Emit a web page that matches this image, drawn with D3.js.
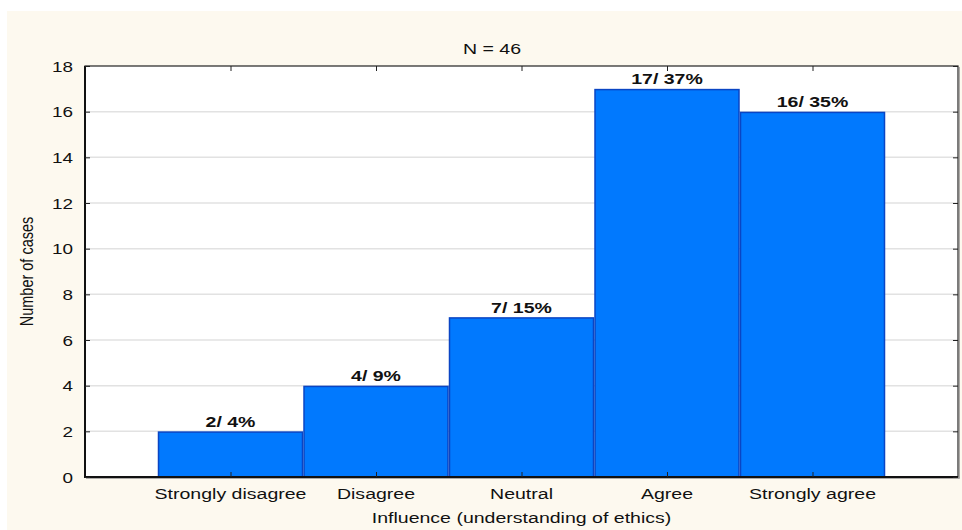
<!DOCTYPE html>
<html>
<head>
<meta charset="utf-8">
<script src="https://cdn.jsdelivr.net/npm/d3@7"></script>
<style>
  html, body { margin: 0; padding: 0; background: #ffffff; }
  svg { display: block; }
  text { font-family: "Liberation Sans", Arial, sans-serif; fill: #111; }
</style>
</head>
<body>
<svg id="chart" width="962" height="530"></svg>
<script>
const categories = ["Strongly disagree", "Disagree", "Neutral", "Agree", "Strongly agree"];
const counts = [2, 4, 7, 17, 16];
const percents = [4, 9, 15, 37, 35];
const yTicks = [0, 2, 4, 6, 8, 10, 12, 14, 16, 18];
const titleText = "N = 46";
const xTitle = "Influence (understanding of ethics)";
const yTitle = "Number of cases";

const svg = d3.select("#chart");
const W = 962, H = 530;
const plot = { left: 85, top: 66, right: 958, bottom: 477 };
const SX = 1.26; // horizontal stretch of the original picture

svg.append("rect").attr("x", 7).attr("y", 11).attr("width", W - 7).attr("height", H - 11)
  .attr("fill", "#fdf9ef");
svg.append("rect").attr("x", plot.left).attr("y", plot.top)
  .attr("width", plot.right - plot.left).attr("height", plot.bottom - plot.top)
  .attr("fill", "#ffffff");

const x = d3.scaleLinear().domain([0, categories.length + 1]).range([plot.left, plot.right]);
const y = d3.scaleLinear().domain([0, 18]).range([plot.bottom, plot.top]);

// gridlines
svg.append("g").selectAll("line").data(yTicks.filter(d => d > 0 && d < 18)).join("line")
  .attr("x1", plot.left).attr("x2", plot.right)
  .attr("y1", d => y(d)).attr("y2", d => y(d))
  .attr("stroke", "#e2e2e2").attr("stroke-width", 1.5);

// bars
const bw = x(1) - x(0);
svg.append("g").selectAll("rect").data(counts).join("rect")
  .attr("x", (d, i) => x(i + 0.5) + 0.75)
  .attr("y", d => y(d) + 0.75)
  .attr("width", bw - 1.5)
  .attr("height", d => y(0) - y(d) - 0.75)
  .attr("fill", "#0179fe")
  .attr("stroke", "#0a45c4").attr("stroke-width", 1.5);

// bar labels
svg.append("g").selectAll("text").data(counts).join("text")
  .attr("transform", (d, i) => `translate(${x(i + 1)},${y(d) - 4.5}) scale(${SX},1)`)
  .attr("text-anchor", "middle")
  .attr("font-size", "15.5px").attr("font-weight", "bold")
  .text((d, i) => `${d}/ ${percents[i]}%`);

// frame
svg.append("rect").attr("x", plot.left).attr("y", plot.top)
  .attr("width", plot.right - plot.left).attr("height", plot.bottom - plot.top)
  .attr("fill", "none").attr("stroke", "#222").attr("stroke-width", 1.2);
svg.append("line").attr("x1", plot.right + 1.2).attr("x2", plot.right + 1.2)
  .attr("y1", plot.top + 1).attr("y2", plot.bottom + 1.5)
  .attr("stroke", "#888").attr("stroke-width", 1);
svg.append("line").attr("x1", plot.left + 1).attr("x2", plot.right + 1.5)
  .attr("y1", plot.bottom + 1.2).attr("y2", plot.bottom + 1.2)
  .attr("stroke", "#888").attr("stroke-width", 1);
svg.append("line").attr("x1", plot.left).attr("x2", plot.left)
  .attr("y1", plot.top).attr("y2", plot.bottom + 1)
  .attr("stroke", "#111").attr("stroke-width", 2);
svg.append("line").attr("x1", plot.left - 1).attr("x2", plot.right)
  .attr("y1", plot.bottom).attr("y2", plot.bottom)
  .attr("stroke", "#111").attr("stroke-width", 2);

// y axis ticks (inward) left and right
const yAxisL = d3.axisRight(y).tickValues(yTicks).tickSize(5).tickFormat("");
svg.append("g").attr("transform", `translate(${plot.left},0)`).call(yAxisL)
  .call(g => g.select(".domain").remove())
  .call(g => g.selectAll("line").attr("stroke", "#222"));
const yAxisR = d3.axisLeft(y).tickValues(yTicks).tickSize(5).tickFormat("");
svg.append("g").attr("transform", `translate(${plot.right},0)`).call(yAxisR)
  .call(g => g.select(".domain").remove())
  .call(g => g.selectAll("line").attr("stroke", "#222"));

// y tick labels
svg.append("g").selectAll("text").data(yTicks).join("text")
  .attr("transform", d => `translate(${plot.left - 12},${y(d) + 5.5}) scale(${SX},1)`)
  .attr("text-anchor", "end").attr("font-size", "15px")
  .text(d => d);

// x ticks (inward) bottom and top
const xPos = categories.map((c, i) => i + 1);
const xAxisB = d3.axisTop(x).tickValues(xPos).tickSize(5).tickFormat("");
svg.append("g").attr("transform", `translate(0,${plot.bottom})`).call(xAxisB)
  .call(g => g.select(".domain").remove())
  .call(g => g.selectAll("line").attr("stroke", "#222"));
const xAxisT = d3.axisBottom(x).tickValues(xPos).tickSize(5).tickFormat("");
svg.append("g").attr("transform", `translate(0,${plot.top})`).call(xAxisT)
  .call(g => g.select(".domain").remove())
  .call(g => g.selectAll("line").attr("stroke", "#222"));

// x tick labels
svg.append("g").selectAll("text").data(categories).join("text")
  .attr("transform", (d, i) => `translate(${x(i + 1)},499) scale(${SX},1)`)
  .attr("text-anchor", "middle").attr("font-size", "15.5px")
  .text(d => d);

// title
svg.append("text")
  .attr("transform", `translate(492,54) scale(${SX},1)`)
  .attr("text-anchor", "middle").attr("font-size", "15.5px")
  .text(titleText);

// x axis title
svg.append("text")
  .attr("transform", `translate(${(plot.left + plot.right) / 2},522.5) scale(${SX},1)`)
  .attr("text-anchor", "middle").attr("font-size", "15.5px")
  .text(xTitle);

// y axis title
svg.append("text")
  .attr("transform", `translate(33,${(plot.top + plot.bottom) / 2}) scale(${SX},1) rotate(-90)`)
  .attr("text-anchor", "middle").attr("font-size", "14.5px")
  .text(yTitle);
</script>
</body>
</html>
